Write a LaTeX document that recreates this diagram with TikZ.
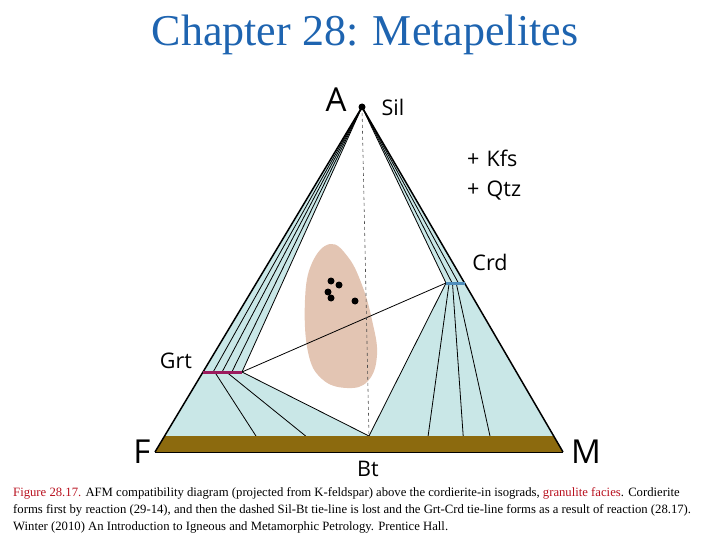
\documentclass[tikz,border=0pt]{standalone}
\usepackage{fontspec}
\setmainfont{Liberation Serif}
\newfontfamily\labelfont{Open Sans}
\usetikzlibrary{positioning, calc}
\definecolor{TitleBlue}{HTML}{1E64B0}
\definecolor{TieFill}{HTML}{C9E7E7}
\definecolor{BtBrown}{HTML}{8C6A0E}
\definecolor{BlobPink}{HTML}{E3C5B3}
\definecolor{GrtPurple}{HTML}{9C1B5E}
\definecolor{CrdBlue}{HTML}{4F8DBB}
\definecolor{CaptionRed}{HTML}{B8101E}
\tikzset{
  phase/.style={font=\labelfont\fontsize{21.5}{23}\selectfont, inner sep=0pt},
  corner/.style={font=\labelfont\fontsize{33}{35}\selectfont, inner sep=0pt},
  tie/.style={black, line width=0.8pt},
  sample/.style={circle, fill=black, inner sep=0pt, minimum size=7pt},
}

\begin{document}
\begin{tikzpicture}[x=1pt, y=-1pt]
\useasboundingbox (0,0) rectangle (720,540);

% corners and tie-line ends
\coordinate (A) at (362,107);
\coordinate (F) at (155,452);
\coordinate (M) at (563,452);
\coordinate (Fb) at (164.6,436);
\coordinate (Mb) at (553.7,436);
\coordinate (Bt) at (369,436);
\coordinate (grtL) at (203,372);
\coordinate (grtR) at (242,372);
\coordinate (crdL) at (446,283);
\coordinate (crdR) at (464.5,283);

% three-phase fields
\fill[TieFill] (A) -- (grtL) -- (grtR) -- cycle;
\fill[TieFill] (A) -- (crdL) -- (crdR) -- cycle;
\fill[TieFill] (grtL) -- (grtR) -- (Bt) -- (Fb) -- cycle;
\fill[TieFill] (crdL) -- (crdR) -- (Mb) -- (Bt) -- cycle;

% granulite bulk compositions
\fill[BlobPink] plot[smooth cycle, tension=0.7] coordinates {
  (330,244) (348,257) (362,285) (372,320) (377,355)
  (368,381) (347,388) (322,379) (308,352) (305,300) (312,263)};
\foreach \p in {(331,281),(339,285),(328,292),(331,298),(355,301)}
  \node[sample] at \p {};

% tie-lines
\foreach \t in {0.26,0.49,0.74}
  \draw[tie] (A) -- ($(grtL)!\t!(grtR)$);
\draw[tie] (A) -- (grtR);
\foreach \t in {0.33,0.67}
  \draw[tie] (A) -- ($(crdL)!\t!(crdR)$);
\draw[tie] (A) -- (crdL);
\draw[tie] ($(grtL)!0.3!(grtR)$) -- ($(Fb)!0.447!(Bt)$);
\draw[tie] ($(grtL)!0.6!(grtR)$) -- ($(Fb)!0.69!(Bt)$);
\draw[tie] (grtR) -- (Bt);
\draw[tie] (crdL) -- (Bt);
\draw[tie] ($(crdL)!0.17!(crdR)$) -- ($(Bt)!0.32!(Mb)$);
\draw[tie] ($(crdL)!0.35!(crdR)$) -- ($(Bt)!0.51!(Mb)$);
\draw[tie] ($(crdL)!0.55!(crdR)$) -- ($(Bt)!0.655!(Mb)$);
\draw[tie] (grtR) -- (crdL);
\draw[dashed, black!70, line width=0.6pt] (A) -- (Bt);

% biotite bar and triangle
\fill[BtBrown] (Fb) -- (Mb) -- (M) -- (F) -- cycle;
\draw[line width=0.8pt] (F) -- (M);
\draw[line width=1.5pt, line join=round] (F) -- (A) -- (M);
\draw[GrtPurple, line width=3pt] (grtL) -- (grtR);
\draw[CrdBlue, line width=3pt] (crdL) -- (crdR);
\node[sample] (sil) at (A) {};

% labels
\node[corner] (lblA) at (336,100) {A};
\node[corner] (lblF) at (142,452) {F};
\node[corner] (lblM) at (586,452) {M};
\node[phase] (lblSil) at (393,107) {Sil};
\node[phase, anchor=west] (lblKfs) at (467,158) {+\,\,Kfs};
\node[phase, anchor=west] (lblQtz) at (467,191) {+\,\,Qtz};
\node[phase] (lblCrd) at (490,262) {Crd};
\node[phase] (lblGrt) at (176,361) {Grt};
\node[phase] (lblBt) at (368,469) {Bt};

% title and caption
\node[font=\fontsize{44}{46}\selectfont, text=TitleBlue] (title) at (365,35) {Chapter 28: Metapelites};
\node[
    anchor=north west,
    align=left,
    inner sep=0pt,
    font=\fontsize{12.7}{17}\selectfont
] (caption) at (13,487) {%
    {\color{CaptionRed}Figure 28.17.} AFM compatibility diagram (projected from K-feldspar) above the cordierite-in isograds, {\color{CaptionRed}granulite facies}. Cordierite\\
    forms first by reaction (29-14), and then the dashed Sil-Bt tie-line is lost and the Grt-Crd tie-line forms as a result of reaction (28.17).\\
    Winter (2010) An Introduction to Igneous and Metamorphic Petrology. Prentice Hall.
};
\end{tikzpicture}
\end{document}
